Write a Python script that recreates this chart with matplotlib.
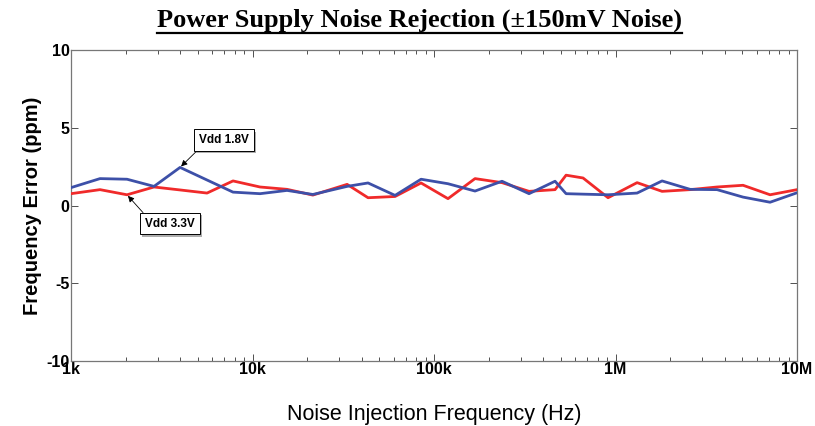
import numpy as np
import matplotlib
matplotlib.use("Agg")
import matplotlib.pyplot as plt
from matplotlib import patheffects
from matplotlib.lines import Line2D
from matplotlib.ticker import LogLocator, FixedLocator, FixedFormatter, NullFormatter

# ---- data ----
freq_hz = [1000, 1445, 2035, 2867, 3990, 5615, 7810, 11000, 15490, 21500,
           33200, 43300, 61000, 84800, 119400, 168200, 236900, 333700, 464200,
           533900, 662200, 909300, 1314000, 1804000, 2574000, 3624000, 5040000,
           7100000, 10000000]
vdd18 = [1.15, 1.73, 1.69, 1.23, 2.45, 1.64, 0.86, 0.76, 0.97, 0.71,
         1.23, 1.45, 0.65, 1.69, 1.40, 0.93, 1.56, 0.76, 1.56,
         0.76, 0.73, 0.69, 0.80, 1.58, 1.04, 1.02, 0.54,
         0.21, 0.82]
vdd33 = [0.76, 1.02, 0.69, 1.19, 1.00, 0.80, 1.58, 1.19, 1.04, 0.67,
         1.36, 0.50, 0.58, 1.45, 0.44, 1.73, 1.47, 0.91, 1.02,
         1.95, 1.77, 0.50, 1.47, 0.91, 1.02, 1.19, 1.30,
         0.69, 1.02]
xtick_vals = [1e3, 1e4, 1e5, 1e6, 1e7]
xtick_labels = ["1k", "10k", "100k", "1M", "10M"]
ytick_vals = [-10, -5, 0, 5, 10]
title = "Power Supply Noise Rejection (\u00b1150mV Noise)"
xlabel = "Noise Injection Frequency (Hz)"
ylabel = "Frequency Error (ppm)"
label18 = "Vdd 1.8V"
label33 = "Vdd 3.3V"

plt.rcParams['font.family'] = ['Liberation Sans', 'DejaVu Sans']

fig = plt.figure(figsize=(8.15, 4.26), dpi=100)
ax = fig.add_axes([0.0871, 0.1526, 0.8909, 0.7300])

blue = "#3d50a8"
red = "#f02a2a"
ax.plot(freq_hz, vdd33, color=red, lw=2.0, zorder=3)
ax.plot(freq_hz, vdd18, color=blue, lw=2.0, zorder=4)

ax.set_xscale("log")
ax.set_xlim(1e3, 1e7)
ax.set_ylim(-10, 10)
ax.xaxis.set_major_locator(FixedLocator(xtick_vals))
ax.xaxis.set_major_formatter(FixedFormatter(xtick_labels))
ax.xaxis.set_minor_locator(LogLocator(base=10, subs=np.arange(2, 10)))
ax.xaxis.set_minor_formatter(NullFormatter())
ax.set_yticks(ytick_vals)
ax.set_yticklabels([str(v) for v in ytick_vals])

ax.tick_params(which="both", direction="in", top=True, right=True,
               color="#333333", width=0.6)
ax.tick_params(which="major", length=5, labelsize=11.5, pad=1)
ax.tick_params(which="minor", length=3)
for lab in ax.get_xticklabels() + ax.get_yticklabels():
    lab.set_fontweight("bold")
for sp in ax.spines.values():
    sp.set_color("#777777")
    sp.set_linewidth(0.9)

ax.set_xlabel(xlabel, fontsize=15.5, labelpad=19)
ax.set_ylabel(ylabel, fontsize=14.5, fontweight="bold", labelpad=3)

bbox_style = dict(boxstyle="square,pad=0.4", fc="white", ec="black", lw=0.7)
a1 = ax.annotate(label18, xy=(freq_hz[4], vdd18[4]), xytext=(6970, 4.2),
                 fontsize=8.5, fontweight="bold", ha="center", va="center",
                 bbox=bbox_style, zorder=6,
                 arrowprops=dict(arrowstyle="-|>", color="black", lw=0.6,
                                 mutation_scale=9, relpos=(0.05, 0.0),
                                 shrinkA=0, shrinkB=1))
a2 = ax.annotate(label33, xy=(freq_hz[2], vdd33[2]), xytext=(3510, -1.17),
                 fontsize=8.5, fontweight="bold", ha="center", va="center",
                 bbox=bbox_style, zorder=6,
                 arrowprops=dict(arrowstyle="-|>", color="black", lw=0.6,
                                 mutation_scale=9, relpos=(0.05, 1.0),
                                 shrinkA=0, shrinkB=1))
for a in (a1, a2):
    a.get_bbox_patch().set_path_effects([
        patheffects.SimplePatchShadow(offset=(1.5, -1.5), shadow_rgbFace="#999999", alpha=0.8),
        patheffects.Normal()])

t = fig.text(0.515, 0.952, title, ha="center", va="center", fontsize=19,
             fontweight="bold", family=["Liberation Serif", "DejaVu Serif"])
fig.canvas.draw()
r = fig.canvas.get_renderer()
bb = t.get_window_extent(renderer=r)
inv = fig.transFigure.inverted()
(x0, y0) = inv.transform((bb.x0, bb.y0))
(x1, _) = inv.transform((bb.x1, bb.y0))
fig.add_artist(Line2D([x0, x1], [y0 - 0.001, y0 - 0.001], transform=fig.transFigure,
                      color="black", lw=1.6))

fig.savefig("out.png", dpi=100)
